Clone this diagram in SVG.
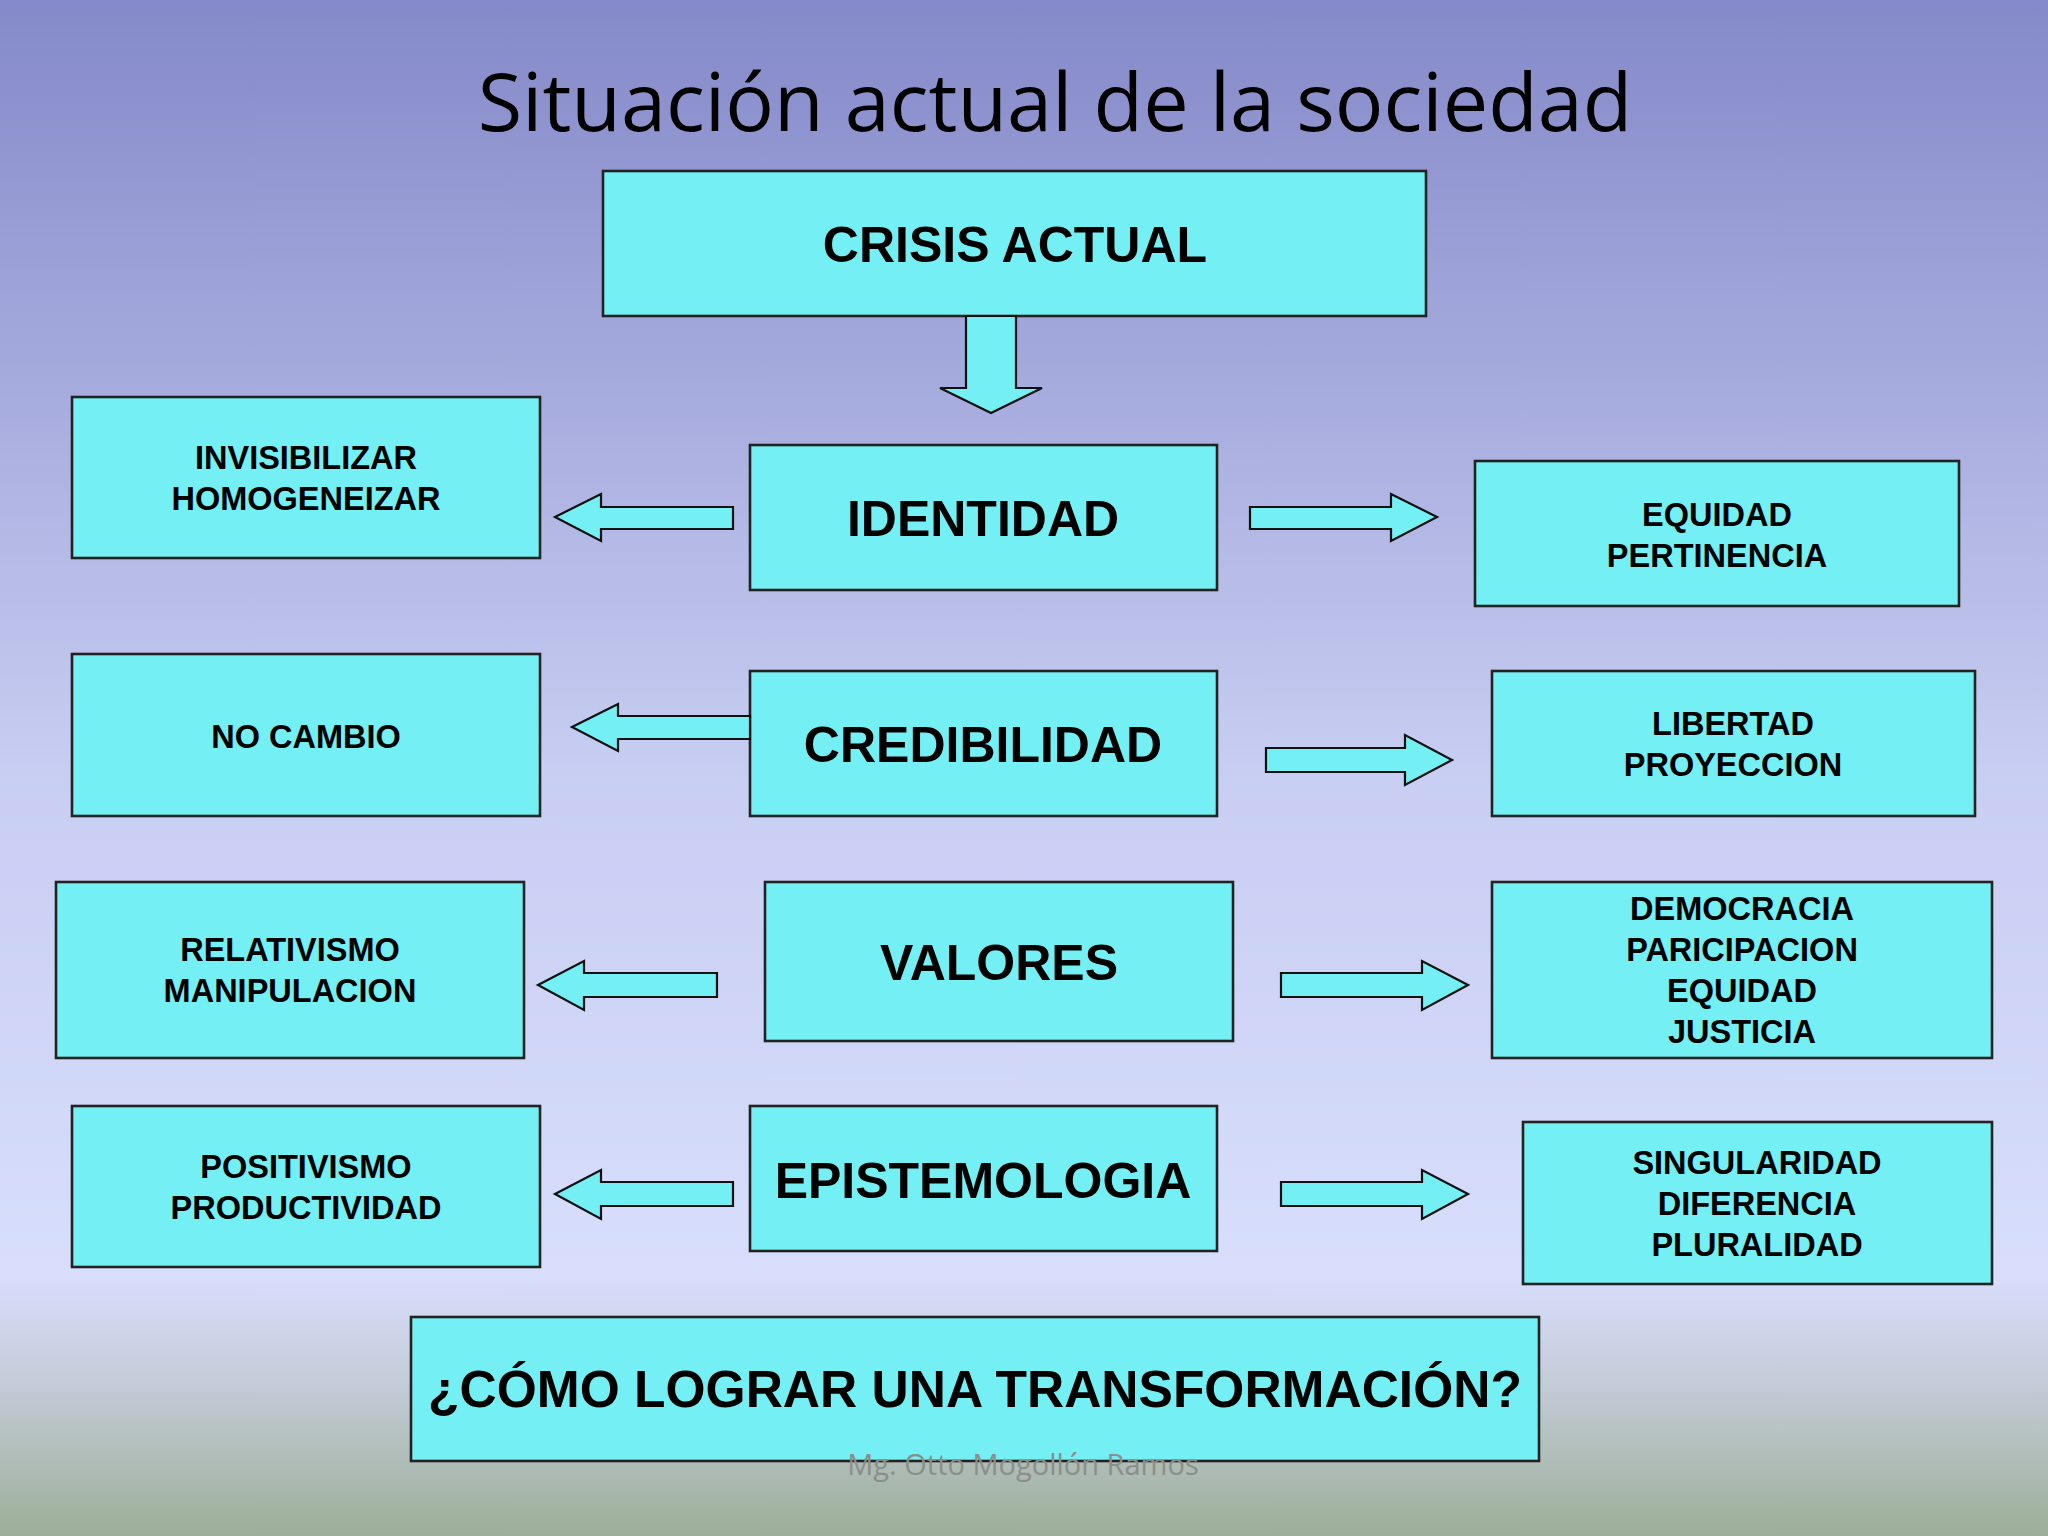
<svg xmlns="http://www.w3.org/2000/svg" width="2048" height="1536" viewBox="0 0 2048 1536">
<defs>
<linearGradient id="bg" x1="0" y1="0" x2="0" y2="1">
<stop offset="0" stop-color="#8489c9"/>
<stop offset="0.5" stop-color="#c8cdf2"/>
<stop offset="0.83" stop-color="#d8defc"/>
<stop offset="0.9" stop-color="#c4ccd8"/>
<stop offset="1" stop-color="#9cae98"/>
</linearGradient>
</defs>
<style>
.box{fill:#74f0f4;stroke:#222;stroke-width:2.6}
.arr{fill:#74f0f4;stroke:#111;stroke-width:2.2}
.t{font-family:"Liberation Sans",Arial,sans-serif;font-weight:bold;fill:#000;text-anchor:middle}
.big{font-size:50px}
.sm{font-size:32.5px}
</style>
<rect width="2048" height="1536" fill="url(#bg)"/>
<text x="1055" y="131" font-family="'Open Sans','Noto Sans',sans-serif" font-size="81" text-anchor="middle" fill="#000">Situación actual de la sociedad</text>

<g id="crisis"><rect class="box" x="603" y="171" width="823" height="145"/><text class="t big" x="1015" y="262">CRISIS ACTUAL</text></g>
<g id="identidad"><rect class="box" x="750" y="445" width="467" height="145"/><text class="t big" x="983" y="536">IDENTIDAD</text></g>
<g id="invisibilizar"><rect class="box" x="72" y="397" width="468" height="161"/><text class="t sm" x="306" y="469">INVISIBILIZAR</text><text class="t sm" x="306" y="510">HOMOGENEIZAR</text></g>
<g id="equidad"><rect class="box" x="1475" y="461" width="484" height="145"/><text class="t sm" x="1717" y="526">EQUIDAD</text><text class="t sm" x="1717" y="567">PERTINENCIA</text></g>
<g id="nocambio"><rect class="box" x="72" y="654" width="468" height="162"/><text class="t sm" x="306" y="748">NO CAMBIO</text></g>
<g id="credibilidad"><rect class="box" x="750" y="671" width="467" height="145"/><text class="t big" x="983" y="762">CREDIBILIDAD</text></g>
<g id="libertad"><rect class="box" x="1492" y="671" width="483" height="145"/><text class="t sm" x="1733" y="735">LIBERTAD</text><text class="t sm" x="1733" y="776">PROYECCION</text></g>
<g id="relativismo"><rect class="box" x="56" y="882" width="468" height="176"/><text class="t sm" x="290" y="961">RELATIVISMO</text><text class="t sm" x="290" y="1002">MANIPULACION</text></g>
<g id="valores"><rect class="box" x="765" y="882" width="468" height="159"/><text class="t big" x="999" y="980">VALORES</text></g>
<g id="democracia"><rect class="box" x="1492" y="882" width="500" height="176"/><text class="t sm" x="1742" y="920">DEMOCRACIA</text><text class="t sm" x="1742" y="961">PARICIPACION</text><text class="t sm" x="1742" y="1002">EQUIDAD</text><text class="t sm" x="1742" y="1043">JUSTICIA</text></g>
<g id="positivismo"><rect class="box" x="72" y="1106" width="468" height="161"/><text class="t sm" x="306" y="1178">POSITIVISMO</text><text class="t sm" x="306" y="1219">PRODUCTIVIDAD</text></g>
<g id="epistemologia"><rect class="box" x="750" y="1106" width="467" height="145"/><text class="t big" x="983" y="1198">EPISTEMOLOGIA</text></g>
<g id="singularidad"><rect class="box" x="1523" y="1122" width="469" height="162"/><text class="t sm" x="1757" y="1174">SINGULARIDAD</text><text class="t sm" x="1757" y="1215">DIFERENCIA</text><text class="t sm" x="1757" y="1256">PLURALIDAD</text></g>
<g id="pregunta"><rect class="box" x="411" y="1317" width="1128" height="144"/><text class="t" font-size="51.5" x="975" y="1407">¿CÓMO LOGRAR UNA TRANSFORMACIÓN?</text></g>

<g id="connectors">
<polygon class="arr" points="966,316 1016,316 1016,388 1042,388 991,413 940,388 966,388"/>
<polygon class="arr" points="555,517 601,494 601,507 733,507 733,529 601,529 601,541"/>
<polygon class="arr" points="1437,517 1391,494 1391,507 1250,507 1250,529 1391,529 1391,541"/>
<polygon class="arr" points="572,727 618,704 618,716 750,716 750,739 618,739 618,751"/>
<polygon class="arr" points="1452,760 1405,735 1405,748 1266,748 1266,772 1405,772 1405,785"/>
<polygon class="arr" points="538,985 584,961 584,973 717,973 717,997 584,997 584,1010"/>
<polygon class="arr" points="1468,985 1422,961 1422,973 1281,973 1281,997 1422,997 1422,1010"/>
<polygon class="arr" points="555,1194 601,1170 601,1182 733,1182 733,1206 601,1206 601,1219"/>
<polygon class="arr" points="1468,1194 1422,1170 1422,1182 1281,1182 1281,1206 1422,1206 1422,1219"/>
</g>
<text x="1023" y="1475" font-family="'Open Sans','Noto Sans',sans-serif" font-size="29" text-anchor="middle" fill="#8a8f8a">Mg. Otto Mogollón Ramos</text>
</svg>
